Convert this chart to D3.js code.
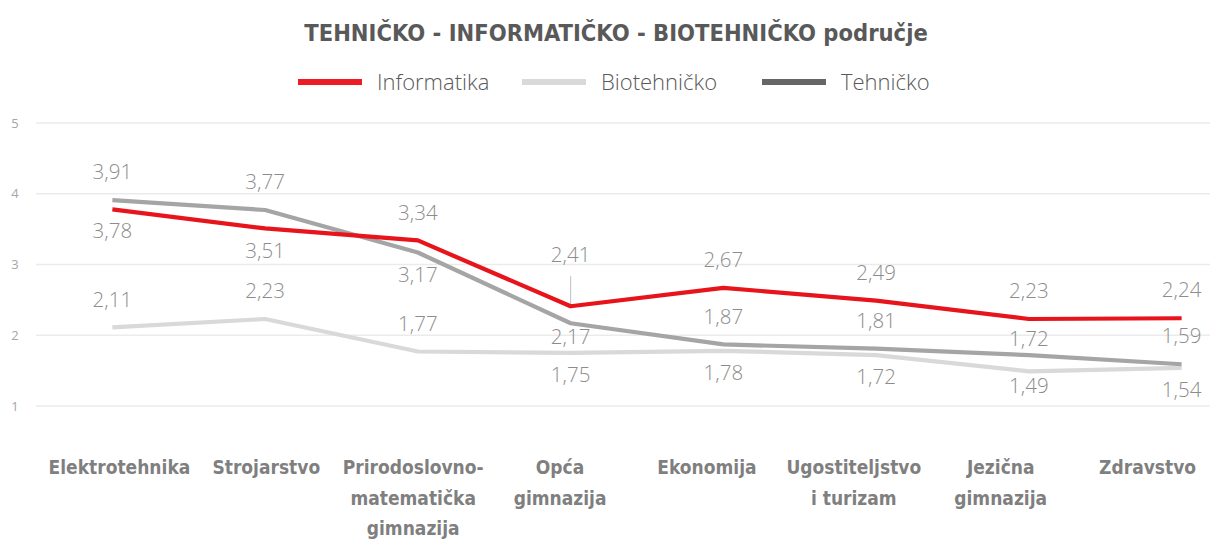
<!DOCTYPE html>
<html>
<head>
<meta charset="utf-8">
<script src="https://cdn.jsdelivr.net/npm/d3@7"></script>
<style>
  body { margin: 0; background: #fff; }
  #wrapper { width: 1210px; height: 542px; }
</style>
</head>
<body>
<div id="wrapper"></div>
<script>
const categories = [
    ["Elektrotehnika"],
    ["Strojarstvo"],
    ["Prirodoslovno-", "matematička", "gimnazija"],
    ["Opća", "gimnazija"],
    ["Ekonomija"],
    ["Ugostiteljstvo", "i turizam"],
    ["Jezična", "gimnazija"],
    ["Zdravstvo"]
];
const informatika = [3.78, 3.51, 3.34, 2.41, 2.67, 2.49, 2.23, 2.24];
const biotehnicko = [2.11, 2.23, 1.77, 1.75, 1.78, 1.72, 1.49, 1.54];
const tehnicko = [3.91, 3.77, 3.17, 2.17, 1.87, 1.81, 1.72, 1.59];
// where each value label sits: a = above, n = just above, b = below, m = just below, l = above with a leader line
const infPlace = ["b", "b", "a", "l", "a", "a", "a", "a"];
const bioPlace = ["a", "a", "a", "b", "b", "b", "m", "b"];
const tehPlace = ["a", "a", "b", "m", "a", "a", "n", "a"];
const yTicks = [1, 2, 3, 4, 5];

function buildPlot() {
    const width = 1210, height = 542;
    const svg = d3.select("#wrapper").append("svg")
        .attr("width", width)
        .attr("height", height);

    const series = [
        { name: "Biotehničko", values: biotehnicko, place: bioPlace, color: "#d9d9d9", key: "#d9d9d9" },
        { name: "Tehničko", values: tehnicko, place: tehPlace, color: "#a5a5a5", key: "#666666" },
        { name: "Informatika", values: informatika, place: infPlace, color: "#e8141c", key: "#ed1c24" }
    ];

    const idx = d3.range(categories.length);
    const xScaler = d3.scalePoint().domain(idx).range([36, 1258]).padding(0.5);
    // category labels sit on a slightly narrower grid than the points
    const xLabel = d3.scalePoint().domain(idx).range([46, 1221]).padding(0.5);
    const yScaler = d3.scaleLinear().domain([1, 5]).range([406, 123]);

    // gridlines
    svg.append("g")
        .selectAll("line")
        .data(yTicks)
        .join("line")
        .attr("x1", 36).attr("x2", width)
        .attr("y1", d => yScaler(d)).attr("y2", d => yScaler(d))
        .attr("stroke", "#ebebeb")
        .attr("stroke-width", 1.3);

    svg.append("g")
        .selectAll("text")
        .data(yTicks)
        .join("text")
        .attr("x", 15)
        .attr("y", d => yScaler(d))
        .attr("dy", "0.35em")
        .attr("text-anchor", "middle")
        .attr("font-family", "'Open Sans', sans-serif")
        .attr("font-size", 13)
        .attr("fill", "#a6a6a6")
        .text(d => d);

    const offset = { a: -28, n: -16, b: 22, m: 14, l: -51 };

    // leader lines
    series.forEach(s => {
        s.values.forEach((v, i) => {
            if (s.place[i] !== "l") return;
            svg.append("line")
                .attr("x1", xScaler(i)).attr("x2", xScaler(i))
                .attr("y1", yScaler(v) - 30)
                .attr("y2", yScaler(v))
                .attr("stroke", "#bfbfbf")
                .attr("stroke-width", 1);
        });
    });

    const lineGenerator = d3.line()
        .x((d, i) => xScaler(i))
        .y(d => yScaler(d));

    svg.append("g")
        .selectAll("path")
        .data(series)
        .join("path")
        .attr("fill", "none")
        .attr("stroke", d => d.color)
        .attr("stroke-width", 4.2)
        .attr("stroke-linejoin", "round")
        .attr("d", d => lineGenerator(d.values));

    // value labels
    const fmt = v => d3.format(".2f")(v).replace(".", ",");
    series.forEach(s => {
        svg.append("g")
            .selectAll("text")
            .data(s.values)
            .join("text")
            .attr("x", (d, i) => xScaler(i))
            .attr("y", (d, i) => yScaler(d) + offset[s.place[i]])
            .attr("dy", "0.35em")
            .attr("text-anchor", "middle")
            .attr("font-family", "'Open Sans', sans-serif")
            .attr("font-weight", 300)
            .attr("font-size", 20.5)
            .attr("fill", "#8c8c8c")
            .text(d => fmt(d));
    });

    // category labels
    const cat = svg.append("g")
        .selectAll("text")
        .data(categories)
        .join("text")
        .attr("text-anchor", "middle")
        .attr("font-family", "'Liberation Sans Narrow', 'DejaVu Sans Condensed', sans-serif")
        .attr("font-weight", "bold")
        .attr("font-size", 19)
        .attr("fill", "#7f7f7f");
    cat.selectAll("tspan")
        .data((d, i) => d.map(t => ({ t, i })))
        .join("tspan")
        .attr("x", d => xLabel(d.i))
        .attr("y", (d, j) => 474 + j * 30.5)
        .text(d => d.t);

    // title
    svg.append("text")
        .attr("x", 616)
        .attr("y", 41)
        .attr("text-anchor", "middle")
        .attr("font-family", "'Liberation Sans Narrow', 'DejaVu Sans Condensed', sans-serif")
        .attr("font-weight", "bold")
        .attr("font-size", 23.5)
        .attr("fill", "#595959")
        .text("TEHNIČKO - INFORMATIČKO - BIOTEHNIČKO područje");

    // legend
    const legendItems = [series[2], series[0], series[1]];
    const legendX = [298, 522, 762];
    const legend = svg.append("g")
        .selectAll("g")
        .data(legendItems)
        .join("g")
        .attr("transform", (d, i) => `translate(${legendX[i]},82)`);
    legend.append("line")
        .attr("x1", 0).attr("x2", 64)
        .attr("stroke", d => d.key)
        .attr("stroke-width", 6);
    legend.append("text")
        .attr("x", 79)
        .attr("dy", "0.35em")
        .attr("font-family", "'Open Sans', sans-serif")
        .attr("font-weight", 300)
        .attr("font-size", 22)
        .attr("fill", "#595959")
        .text(d => d.name);
}

buildPlot();
</script>
</body>
</html>
